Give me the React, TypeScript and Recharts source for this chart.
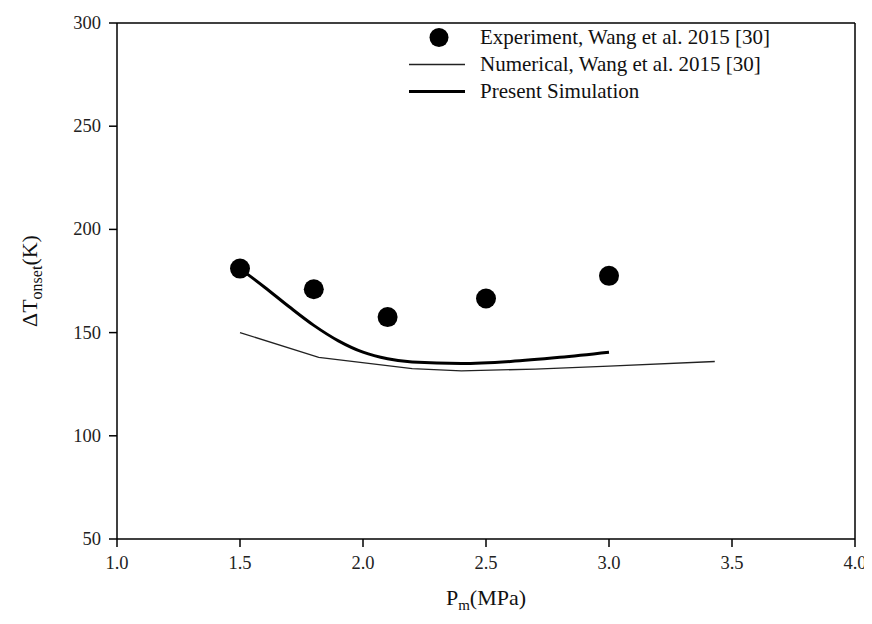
import React from "react";
import { ComposedChart, XAxis, YAxis, Line, Scatter, ReferenceLine } from "recharts";

const xTicks = [1.0, 1.5, 2.0, 2.5, 3.0, 3.5, 4.0];
const yTicks = [50, 100, 150, 200, 250, 300];

const experimentX = [1.5, 1.8, 2.1, 2.5, 3.0];
const experimentY = [181, 171, 157.5, 166.5, 177.5];

const numericalX = [1.5, 1.82, 2.2, 2.4, 2.7, 3.0, 3.43];
const numericalY = [150, 138, 132.5, 131.5, 132.3, 133.8, 136];

const presentX = [1.5, 1.6, 1.7, 1.8, 1.9, 2.0, 2.1, 2.2, 2.4, 2.6, 2.8, 3.0];
const presentY = [181, 172, 162.5, 153.5, 146, 140.5, 137.3, 135.7, 135, 136, 138, 140.5];

const experimentData = experimentX.map((x, i) => ({ x, y: experimentY[i] }));
const numericalData = numericalX.map((x, i) => ({ x, y: numericalY[i] }));
const presentData = presentX.map((x, i) => ({ x, y: presentY[i] }));

const FONT = "'Liberation Serif', 'Times New Roman', 'DejaVu Serif', serif";

const legendItems = [
  { kind: "dot", label: "Experiment, Wang et al. 2015 [30]" },
  { kind: "thin", label: "Numerical, Wang et al. 2015 [30]" },
  { kind: "thick", label: "Present Simulation" },
];

const LegendBox = () => (
  <div
    style={{
      position: "absolute",
      left: 400,
      top: 16,
      fontFamily: FONT,
      fontSize: 21,
      color: "#111",
    }}
  >
    {legendItems.map((it) => (
      <div key={it.label} style={{ display: "flex", alignItems: "center", height: 27 }}>
        <svg width={66} height={27} style={{ marginRight: 6, flex: "none" }}>
          {it.kind === "dot" && <circle cx={31} cy={13.5} r={9.5} fill="#000" />}
          {it.kind === "thin" && <line x1={1} x2={57} y1={13.5} y2={13.5} stroke="#222" strokeWidth={1.3} />}
          {it.kind === "thick" && <line x1={1} x2={57} y1={13.5} y2={13.5} stroke="#000" strokeWidth={3} />}
        </svg>
        <span style={{ whiteSpace: "nowrap" }}>{it.label}</span>
      </div>
    ))}
  </div>
);

const YLabel = (props: any) => {
  const vb = props.viewBox || {};
  const cx = 24;
  const cy = vb.y + vb.height / 2;
  return (
    <text
      x={cx}
      y={cy}
      transform={`rotate(-90, ${cx}, ${cy})`}
      textAnchor="middle"
      dominantBaseline="middle"
      fontFamily={FONT}
      fontSize={22}
      fill="#111"
    >
      ΔT
      <tspan fontSize={16} dy={6}>onset</tspan>
      <tspan dy={-6}>(K)</tspan>
    </text>
  );
};

const XLabel = (props: any) => {
  const vb = props.viewBox || {};
  const cx = vb.x + vb.width / 2;
  const cy = 597;
  return (
    <text x={cx} y={cy} textAnchor="middle" fontFamily={FONT} fontSize={22} fill="#111">
      P
      <tspan fontSize={15} dy={5}>m</tspan>
      <tspan dy={-5}>(MPa)</tspan>
    </text>
  );
};

const XTick = (props: any) => {
  const { x, y, payload } = props;
  return (
    <text x={x} y={y + 20} textAnchor="middle" fontFamily={FONT} fontSize={18.5} fill="#222">
      {Number(payload.value).toFixed(1)}
    </text>
  );
};

const YTick = (props: any) => {
  const { x, y, payload } = props;
  return (
    <text x={x - 6} y={y + 6} textAnchor="end" fontFamily={FONT} fontSize={18.5} fill="#222">
      {payload.value}
    </text>
  );
};

const Dot = (props: any) => <circle cx={props.cx} cy={props.cy} r={10} fill="#000" />;

export default function App() {
  return (
    <div style={{ position: "relative", width: 856, height: 608, background: "#fff" }}>
      <style>{`.recharts-surface{overflow:visible}.recharts-wrapper{overflow:visible}`}</style>
      <ComposedChart
        width={856}
        height={608}
        margin={{ top: 15, right: 9, left: 0, bottom: 17 }}
        style={{ fontFamily: FONT }}
      >
        <XAxis
          dataKey="x"
          type="number"
          domain={[1, 4]}
          ticks={xTicks}
          allowDataOverflow
          height={60}
          tickSize={8}
          stroke="#000"
          strokeWidth={1.5}
          tick={<XTick />}
          label={<XLabel />}
        />
        <YAxis
          type="number"
          domain={[50, 300]}
          ticks={yTicks}
          allowDataOverflow
          width={109}
          tickSize={8}
          stroke="#000"
          strokeWidth={1.5}
          tick={<YTick />}
          label={<YLabel />}
        />
        <ReferenceLine y={300} stroke="#000" strokeWidth={1.5} />
        <ReferenceLine x={4} stroke="#000" strokeWidth={1.5} />
        <Line
          data={numericalData}
          dataKey="y"
          type="linear"
          stroke="#222"
          strokeWidth={1.3}
          dot={false}
          isAnimationActive={false}
        />
        <Line
          data={presentData}
          dataKey="y"
          type="monotone"
          stroke="#000"
          strokeWidth={3}
          dot={false}
          isAnimationActive={false}
        />
        <Scatter
          data={experimentData}
          dataKey="y"
          fill="#000"
          shape={<Dot />}
          isAnimationActive={false}
        />
      </ComposedChart>
      <LegendBox />
    </div>
  );
}
